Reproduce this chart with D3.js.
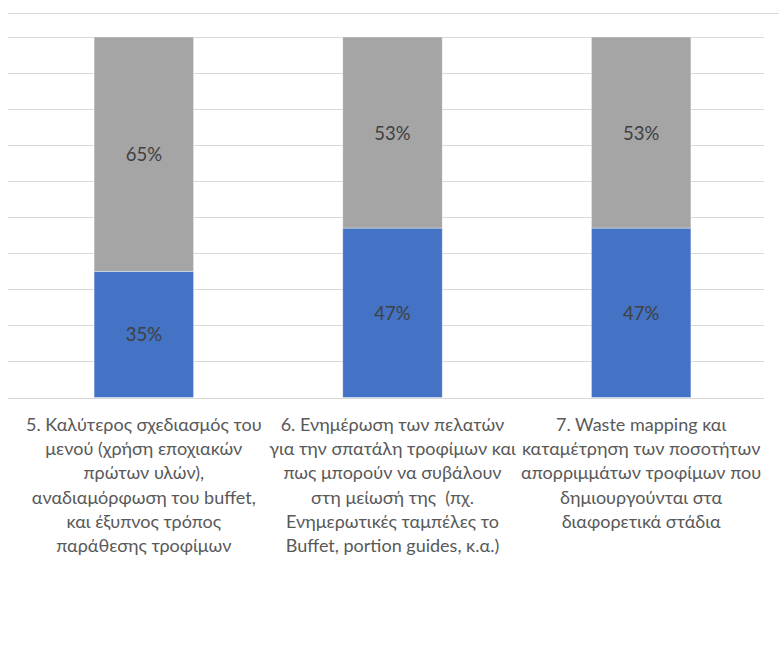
<!DOCTYPE html>
<html>
<head>
<meta charset="utf-8">
<script src="https://cdn.jsdelivr.net/npm/d3@7"></script>
<style>
  html, body { margin: 0; padding: 0; background: #fff; }
  svg { display: block; font-family: Lato, "Open Sans", sans-serif; }
  tspan { white-space: pre; }
</style>
</head>
<body>
<svg id="chart" width="779" height="653"></svg>
<script>
// Measures (share of responses) – 100% stacked
const categories = ["m5", "m6", "m7"];
const categoryLines = [
  ["5. Καλύτερος σχεδιασμός του", "μενού (χρήση εποχιακών", "πρώτων υλών),", "αναδιαμόρφωση του buffet,", "και έξυπνος τρόπος", "παράθεσης τροφίμων"],
  ["6. Ενημέρωση των πελατών", "για την σπατάλη τροφίμων και", "πως μπορούν να συβάλουν", "στη μείωσή της  (πχ.", "Ενημερωτικές ταμπέλες το", "Buffet, portion guides, κ.α.)"],
  ["7. Waste mapping και", "καταμέτρηση των ποσοτήτων", "απορριμμάτων τροφίμων που", "δημιουργούνται στα", "διαφορετικά στάδια"]
];
const seriesBlue = [0.35, 0.47, 0.47];
const seriesGray = [0.65, 0.53, 0.53];
const yTicks = [0, 0.1, 0.2, 0.3, 0.4, 0.5, 0.6, 0.7, 0.8, 0.9, 1.0];

const svg = d3.select("#chart");

const plot = { left: 19.5, right: 765.5, top: 37, bottom: 397.5, gridLeft: 8, gridRight: 764 };

const x = d3.scaleBand()
  .domain(categories)
  .range([plot.left, plot.right])
  .paddingInner(0.6)
  .paddingOuter(0.3);

const y = d3.scaleLinear().domain([0, 1]).range([plot.bottom, plot.top]);

// outer frame line above the plot
svg.append("line")
  .attr("x1", plot.gridLeft).attr("x2", 779)
  .attr("y1", 13.5).attr("y2", 13.5)
  .attr("stroke", "#d9d9d9").attr("stroke-width", 1);

// horizontal gridlines
svg.append("g")
  .selectAll("line")
  .data(yTicks)
  .join("line")
  .attr("x1", plot.gridLeft).attr("x2", plot.gridRight)
  .attr("y1", d => Math.round(y(d)) + 0.5)
  .attr("y2", d => Math.round(y(d)) + 0.5)
  .attr("stroke", "#d9d9d9").attr("stroke-width", 1);

// stacked data
const rows = categories.map((c, i) => ({ cat: c, blue: seriesBlue[i], gray: seriesGray[i] }));
const stack = d3.stack().keys(["blue", "gray"])(rows);
const colors = { blue: "#4472c4", gray: "#a5a5a5" };

const layers = svg.append("g")
  .selectAll("g")
  .data(stack)
  .join("g")
  .attr("fill", d => colors[d.key]);

layers.selectAll("rect")
  .data(d => d)
  .join("rect")
  .attr("x", d => x(d.data.cat))
  .attr("width", x.bandwidth())
  .attr("y", d => y(d[1]))
  .attr("height", d => y(d[0]) - y(d[1]))
  .attr("stroke", "#ffffff")
  .attr("stroke-opacity", 0.5)
  .attr("stroke-width", 0.75);

// value labels centred in each segment
layers.selectAll("text")
  .data(d => d)
  .join("text")
  .attr("x", d => x(d.data.cat) + x.bandwidth() / 2)
  .attr("y", d => (y(d[0]) + y(d[1])) / 2)
  .attr("dy", "0.38em")
  .attr("text-anchor", "middle")
  .attr("fill", "#404040")
  .attr("font-size", 18.5)
  .text(d => Math.round((d[1] - d[0]) * 100) + "%");

// category labels
const labels = svg.append("g")
  .selectAll("text")
  .data(categories)
  .join("text")
  .attr("text-anchor", "middle")
  .attr("fill", "#595959")
  .attr("font-size", 18)
  .attr("x", d => x(d) + x.bandwidth() / 2)
  .attr("y", 431);

labels.selectAll("tspan")
  .data((d, i) => categoryLines[i])
  .join("tspan")
  .attr("x", function () { return this.parentNode.getAttribute("x"); })
  .attr("dy", (d, i) => i === 0 ? 0 : 24.2)
  .text(d => d);
</script>
</body>
</html>
